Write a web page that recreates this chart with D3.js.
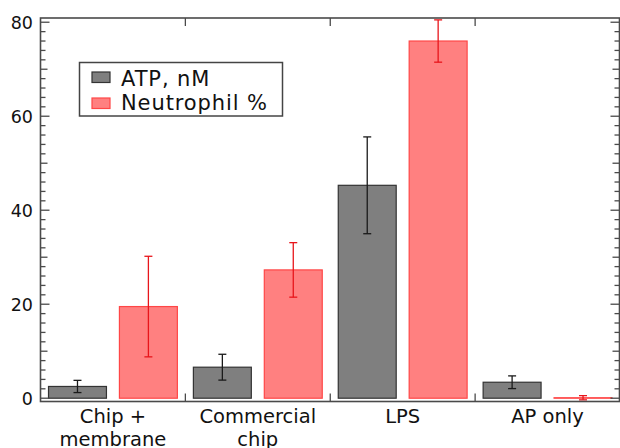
<!DOCTYPE html>
<html>
<head>
<meta charset="utf-8">
<script src="https://cdn.jsdelivr.net/npm/d3@7"></script>
<style>
  html, body { margin: 0; padding: 0; background: #fff; }
  svg { display: block; font-family: "DejaVu Sans", sans-serif; }
</style>
</head>
<body>
<svg id="chart" width="620" height="448"></svg>
<script>
// Groups along the x axis (two-line labels)
const categories = ["Chip +|membrane", "Commercial|chip", "LPS", "AP only"];
// ATP concentration (nM) with error
const atpValues = [2.5, 6.6, 45.3, 3.4];
const atpErrors = [1.3, 2.75, 10.3, 1.35];
// Neutrophil percentage with error
const neutValues = [19.5, 27.3, 76.0, 0.1];
const neutErrors = [10.7, 5.8, 4.5, 0.45];
// Series names for the legend
const seriesNames = ["ATP, nM", "Neutrophil %"];
// Y axis tick labels
const yTickValues = [0, 20, 40, 60, 80];

const svg = d3.select("#chart");
const plotLeft = 40.5, plotRight = 619.5, plotTop = 18, plotBottom = 401.5;

const x0 = d3.scaleBand().domain(categories).range([plotLeft, 620]).padding(0);
const x1 = d3.scaleBand().domain(["atp", "neut"]).range([0, x0.bandwidth()])
  .paddingInner(0.183).paddingOuter(0.113);
const y = d3.scaleLinear().domain([-0.7, 80.9]).range([plotBottom, plotTop]);

const seriesStyle = {
  atp:  { fill: "#7f7f7f", stroke: "#333333", err: "#1a1a1a" },
  neut: { fill: "#ff8080", stroke: "#ff4646", err: "#e8151b" }
};

const rows = categories.map((c, i) => ({
  cat: c,
  bars: [
    { key: "atp", v: atpValues[i], e: atpErrors[i] },
    { key: "neut", v: neutValues[i], e: neutErrors[i] }
  ]
}));

// Bars
const g = svg.append("g");
const groups = g.selectAll("g.grp").data(rows).join("g")
  .attr("transform", d => `translate(${x0(d.cat)},0)`);

groups.selectAll("rect").data(d => d.bars).join("rect")
  .attr("x", d => x1(d.key))
  .attr("width", x1.bandwidth())
  .attr("y", d => y(d.v))
  .attr("height", d => y(0) - y(d.v))
  .attr("fill", d => seriesStyle[d.key].fill)
  .attr("stroke", d => seriesStyle[d.key].stroke)
  .attr("stroke-width", 1.2);

// Error bars
const capW = 8;
const eb = groups.selectAll("g.err").data(d => d.bars).join("g")
  .attr("class", "err")
  .attr("stroke", d => seriesStyle[d.key].err)
  .attr("stroke-width", 1.3);
eb.append("line")
  .attr("x1", d => x1(d.key) + x1.bandwidth() / 2)
  .attr("x2", d => x1(d.key) + x1.bandwidth() / 2)
  .attr("y1", d => y(d.v - d.e)).attr("y2", d => y(d.v + d.e));
[-1, 1].forEach(s => {
  eb.append("line")
    .attr("x1", d => x1(d.key) + x1.bandwidth() / 2 - capW / 2)
    .attr("x2", d => x1(d.key) + x1.bandwidth() / 2 + capW / 2)
    .attr("y1", d => y(d.v + s * d.e)).attr("y2", d => y(d.v + s * d.e));
});

// Frame
const frameColor = "#4a4a4a";
svg.append("rect")
  .attr("x", plotLeft).attr("y", plotTop)
  .attr("width", plotRight - plotLeft).attr("height", plotBottom - plotTop)
  .attr("fill", "none").attr("stroke", frameColor).attr("stroke-width", 1.6);

// Y ticks on left and right, pointing inward
const yAll = d3.range(0, 81, 2);
const tickLen = v => (v % 20 === 0 ? 9 : v % 10 === 0 ? 7 : 5);
const yt = svg.append("g").attr("stroke", frameColor).attr("stroke-width", 1.3);
yt.selectAll("line.l").data(yAll).join("line").attr("class", "l")
  .attr("x1", plotLeft).attr("x2", d => plotLeft + tickLen(d))
  .attr("y1", d => y(d)).attr("y2", d => y(d));
yt.selectAll("line.r").data(yAll).join("line").attr("class", "r")
  .attr("x1", plotRight).attr("x2", d => plotRight - tickLen(d))
  .attr("y1", d => y(d)).attr("y2", d => y(d));

// Y tick labels
svg.append("g").selectAll("text").data(yTickValues).join("text")
  .attr("x", 33).attr("y", d => y(d)).attr("dy", "0.36em")
  .attr("text-anchor", "end").attr("font-size", 17.5).attr("fill", "#111")
  .text(d => d);

// X boundary ticks on bottom and top, pointing inward
const bounds = categories.slice(1).map(c => x0(c));
const xt = svg.append("g").attr("stroke", frameColor).attr("stroke-width", 1.3);
xt.selectAll("line.b").data(bounds).join("line").attr("class", "b")
  .attr("x1", d => d).attr("x2", d => d).attr("y1", plotBottom).attr("y2", plotBottom - 8);
xt.selectAll("line.t").data(bounds).join("line").attr("class", "t")
  .attr("x1", d => d).attr("x2", d => d).attr("y1", plotTop).attr("y2", plotTop + 8);

// X category labels
const xl = svg.append("g").selectAll("text").data(categories).join("text")
  .attr("x", d => x0(d) + x0.bandwidth() / 2)
  .attr("y", 423)
  .attr("text-anchor", "middle").attr("font-size", 19.5).attr("fill", "#111");
xl.selectAll("tspan").data(d => d.split("|")).join("tspan")
  .attr("x", function () { return d3.select(this.parentNode).attr("x"); })
  .attr("dy", (d, i) => (i === 0 ? 0 : 23))
  .text(d => d);

// Legend
const lg = svg.append("g");
lg.append("rect").attr("x", 79.5).attr("y", 62.5).attr("width", 203).attr("height", 53.5)
  .attr("fill", "#fff").attr("stroke", "#444").attr("stroke-width", 1.5);
const legKeys = ["atp", "neut"];
legKeys.forEach((k, i) => {
  lg.append("rect").attr("x", 92).attr("y", 72 + i * 26).attr("width", 18).attr("height", 10.5)
    .attr("fill", seriesStyle[k].fill).attr("stroke", k === "atp" ? "#333" : "#ff4646")
    .attr("stroke-width", 1.2);
  lg.append("text").attr("x", 121).attr("y", 86 + i * 23.5)
    .attr("font-size", 21).attr("letter-spacing", 0.9).attr("fill", "#111").text(seriesNames[i]);
});
</script>
</body>
</html>
